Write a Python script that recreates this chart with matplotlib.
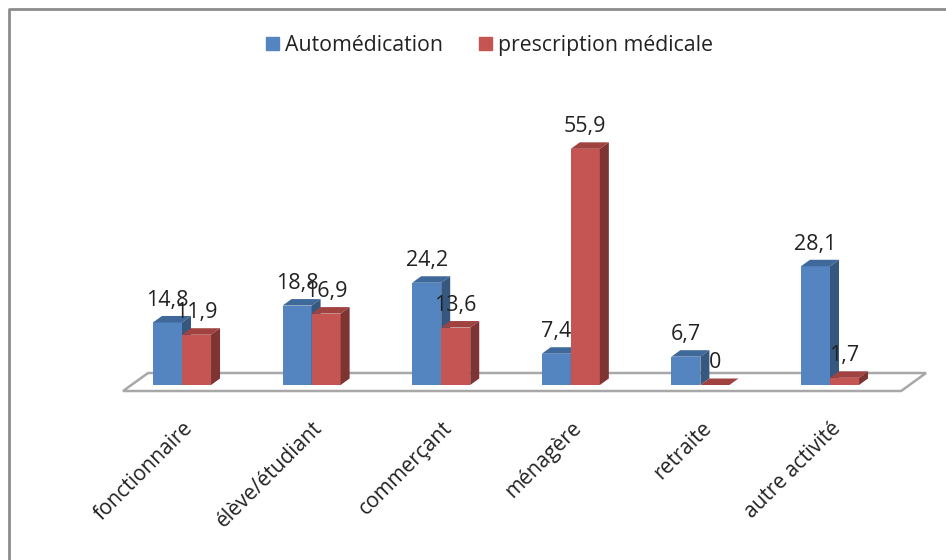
import numpy as np
import matplotlib.pyplot as plt
from matplotlib.lines import Line2D
from matplotlib.patches import Patch

categories = ['fonctionnaire', 'élève/étudiant', 'commerçant', 'ménagère', 'retraite', 'autre activité']
auto_values = [14.8, 18.8, 24.2, 7.4, 6.7, 28.1]
presc_values = [11.9, 16.9, 13.6, 55.9, 0, 1.7]
auto_labels = ['14,8', '18,8', '24,2', '7,4', '6,7', '28,1']
presc_labels = ['11,9', '16,9', '13,6', '55,9', '0', '1,7']

plt.rcParams['font.family'] = ['Open Sans', 'DejaVu Sans']

bar_w = 0.224
depth_x = 9 / 129.6
depth_y = 6.5 / 4.225


def draw_bar(ax, x, val, front, top, side):
    # front face plus the two faces that fake the 3d look
    ax.bar(x, val, width=bar_w, align='edge', color=front, linewidth=0, zorder=3)
    ax.fill([x, x + depth_x, x + bar_w + depth_x, x + bar_w],
            [val, val + depth_y, val + depth_y, val], color=top, lw=0, zorder=3)
    ax.fill([x + bar_w, x + bar_w + depth_x, x + bar_w + depth_x, x + bar_w],
            [0, depth_y, val + depth_y, val], color=side, lw=0, zorder=3)


fig = plt.figure(figsize=(9.46, 5.6), dpi=100)
ax = fig.add_axes([0, 0, 1, 1])
ax.set_xlim(-182 / 129.6, (946 - 182) / 129.6)
ax.set_ylim(-175 / 4.225, 385 / 4.225)
ax.axis('off')

# floor
ax.fill([-0.455, -0.262, 5.741, 5.549], [-1.42, 2.84, 2.84, -1.42], facecolor='white',
        edgecolor='#a8a8a8', lw=1.8, zorder=1)

for i in range(len(categories)):
    draw_bar(ax, i - bar_w, auto_values[i], '#5585c0', '#40699b', '#36587f')
    draw_bar(ax, i, presc_values[i], '#c55552', '#a04240', '#7d3432')

    ax.annotate(auto_labels[i], (i - bar_w / 2, auto_values[i]), xytext=(0, 22), textcoords='offset pixels',
                ha='center', va='center', fontsize=15.5, color='#222222', zorder=5)
    ax.annotate(presc_labels[i], (i + bar_w / 2, presc_values[i]), xytext=(0, 22), textcoords='offset pixels',
                ha='center', va='center', fontsize=15.5, color='#222222', zorder=5)
    ax.annotate(categories[i], (i, 0), xytext=(8, -40), textcoords='offset pixels', rotation=45,
                rotation_mode='anchor', ha='right', va='center', fontsize=15, color='#222222')

handles = [Patch(color='#5585c0', label='Automédication'), Patch(color='#c55552', label='prescription médicale')]
fig.legend(handles=handles, loc='center', bbox_to_anchor=(489.5 / 946, 1 - 45.5 / 560), ncol=2, frameon=False,
           fontsize=15.3, handlelength=0.62, handleheight=0.6, handletextpad=0.29, columnspacing=1.7,
           labelcolor='#222222')

# outer frame of the picture
fig.add_artist(Line2D([9 / 946, 9 / 946, 1], [0, 1 - 9 / 560, 1 - 9 / 560], color='#8c8c8c', lw=2))

fig.savefig('out.png', dpi=100)
